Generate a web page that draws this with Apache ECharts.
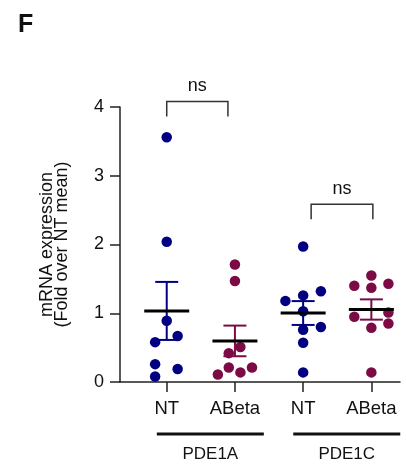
<!DOCTYPE html>
<html>
<head>
<meta charset="utf-8">
<script src="https://cdn.jsdelivr.net/npm/echarts@6/dist/echarts.min.js"></script>
<style>html,body{margin:0;padding:0;background:#fff}#c{width:406px;height:464px}</style>
</head>
<body>
<div id="c"></div>
<script>
// ---- data ----
const groups = ['PDE1A', 'PDE1C'];
const tickLabels = ['NT', 'ABeta', 'NT', 'ABeta'];
const pde1aNT = [3.56, 2.04, 0.89, 0.67, 0.58, 0.26, 0.19, 0.08];
const pde1aNTJitter = [0, 0, 0, 0.16, -0.17, -0.17, 0.16, -0.17];
const pde1aAB = [1.71, 1.47, 0.51, 0.42, 0.21, 0.21, 0.11, 0.14];
const pde1aABJitter = [0, 0, 0.08, -0.09, -0.09, 0.25, -0.25, 0.08];
const pde1cNT = [1.97, 1.32, 1.26, 1.18, 1.03, 0.80, 0.76, 0.57, 0.14];
const pde1cNTJitter = [0, 0.26, 0, -0.26, 0, 0.26, 0, 0, 0];
const pde1cAB = [1.55, 1.43, 1.40, 1.37, 1.01, 0.95, 0.85, 0.79, 0.14];
const pde1cABJitter = [0, 0.25, -0.25, 0, 0.25, -0.25, 0.25, 0, 0];
const yTicks = [0, 1, 2, 3, 4];
const comparisons = [
  { from: 0, to: 1, level: 4.08, text: 'ns' },
  { from: 2, to: 3, level: 2.585, text: 'ns' }
];

const NAVY = '#000080';
const MAROON = '#7b0a45';
const FONT = 'Liberation Sans, Arial, Helvetica, sans-serif';

const sets = [
  { vals: pde1aNT, jit: pde1aNTJitter, color: NAVY },
  { vals: pde1aAB, jit: pde1aABJitter, color: MAROON },
  { vals: pde1cNT, jit: pde1cNTJitter, color: NAVY },
  { vals: pde1cAB, jit: pde1cABJitter, color: MAROON }
];

function mean(a) { return a.reduce((s, v) => s + v, 0) / a.length; }
function sem(a) {
  const m = mean(a);
  const v = a.reduce((s, x) => s + (x - m) * (x - m), 0) / (a.length - 1);
  return Math.sqrt(v / a.length);
}

const series = [];
sets.forEach((s, i) => {
  series.push({
    type: 'scatter',
    symbolSize: 10.5,
    itemStyle: { color: s.color, opacity: 1 },
    data: s.vals.map((v, k) => [i + s.jit[k], v]),
    z: 2,
    silent: true
  });
});

// mean +/- SEM
series.push({
  type: 'custom',
  z: 5,
  silent: true,
  data: sets.map((s, i) => [i, mean(s.vals), sem(s.vals), i]),
  renderItem: function (params, api) {
    const x = api.value(0), m = api.value(1), e = api.value(2);
    const color = sets[api.value(3)].color;
    const c = api.coord([x, m]);
    const t = api.coord([x, m + e]);
    const b = api.coord([x, m - e]);
    const mh = 22.5, ch = 11.5;
    return {
      type: 'group',
      children: [
        { type: 'line', shape: { x1: c[0], y1: t[1], x2: c[0], y2: b[1] }, style: { stroke: color, lineWidth: 2 } },
        { type: 'line', shape: { x1: c[0] - ch, y1: t[1], x2: c[0] + ch, y2: t[1] }, style: { stroke: color, lineWidth: 2 } },
        { type: 'line', shape: { x1: c[0] - ch, y1: b[1], x2: c[0] + ch, y2: b[1] }, style: { stroke: color, lineWidth: 2 } },
        { type: 'line', shape: { x1: c[0] - mh, y1: c[1], x2: c[0] + mh, y2: c[1] }, style: { stroke: '#000', lineWidth: 3 } }
      ]
    };
  }
});

// significance brackets
series.push({
  type: 'custom',
  z: 5,
  silent: true,
  clip: false,
  data: comparisons.map((c, i) => [c.from, c.to, c.level, i]),
  renderItem: function (params, api) {
    const idx = api.value(3);
    const adj = idx === 0 ? [0, -7] : [8, 1.5];
    const a = api.coord([api.value(0), api.value(2)]);
    const b = api.coord([api.value(1), api.value(2)]);
    const x1 = a[0] + adj[0], x2 = b[0] + adj[1], y = a[1];
    return {
      type: 'group',
      children: [
        { type: 'polyline', shape: { points: [[x1, y + 15], [x1, y], [x2, y], [x2, y + 15]] }, style: { stroke: '#333', lineWidth: 1.5, fill: null } },
        { type: 'text', x: (x1 + x2) / 2, y: y - 6, style: { text: comparisons[idx].text, fill: '#111', font: '18px ' + FONT, align: 'center', verticalAlign: 'bottom' } }
      ]
    };
  }
});

// group labels below axis
series.push({
  type: 'custom',
  z: 5,
  silent: true,
  clip: false,
  data: groups.map((g, i) => [i * 2, i * 2 + 1, i]),
  renderItem: function (params, api) {
    const a = api.coord([api.value(0), 0]);
    const b = api.coord([api.value(1), 0]);
    const cx = (a[0] + b[0]) / 2 + 9.5;
    const y = a[1] + 52;
    return {
      type: 'group',
      children: [
        { type: 'line', shape: { x1: cx - 53.5, y1: y, x2: cx + 53.5, y2: y }, style: { stroke: '#111', lineWidth: 3 } },
        { type: 'text', x: cx, y: y + 20, style: { text: groups[api.value(2)], fill: '#111', font: '17px ' + FONT, align: 'center', verticalAlign: 'middle' } }
      ]
    };
  }
});

const chart = echarts.init(document.getElementById('c'), null, { renderer: 'canvas' });
chart.setOption({
  animation: false,
  backgroundColor: '#fff',
  title: {
    text: 'F', left: 13, top: 8,
    textStyle: { fontFamily: FONT, fontWeight: 'bold', fontSize: 25, color: '#111' }
  },
  grid: { left: 120, right: 6, top: 107, bottom: 82, containLabel: false },
  xAxis: {
    type: 'value',
    min: -0.685, max: 3.42,
    splitLine: { show: false },
    axisLine: { show: true, onZero: false, lineStyle: { color: '#222', width: 1.5 } },
    axisTick: { show: true, customValues: [0, 1, 2, 3], length: 10, lineStyle: { color: '#222', width: 1.5 } },
    axisLabel: {
      customValues: [0, 1, 2, 3],
      formatter: v => tickLabels[Math.round(v)],
      fontFamily: FONT, fontSize: 18.5, color: '#111', margin: 17
    }
  },
  yAxis: {
    type: 'value',
    min: 0, max: 4, interval: 1,
    name: 'mRNA expression\n(Fold over NT mean)',
    nameLocation: 'middle',
    nameRotate: 90,
    nameGap: 50,
    nameTextStyle: { fontFamily: FONT, fontSize: 18, color: '#111', lineHeight: 15 },
    splitLine: { show: false },
    axisLine: { show: true, onZero: false, lineStyle: { color: '#222', width: 1.5 } },
    axisTick: { show: true, length: 10, lineStyle: { color: '#222', width: 1.5 } },
    axisLabel: {
      formatter: v => (yTicks.indexOf(v) >= 0 ? String(v) : ''),
      fontFamily: FONT, fontSize: 18, color: '#111', margin: 16
    }
  },
  series: series
});
</script>
</body>
</html>
